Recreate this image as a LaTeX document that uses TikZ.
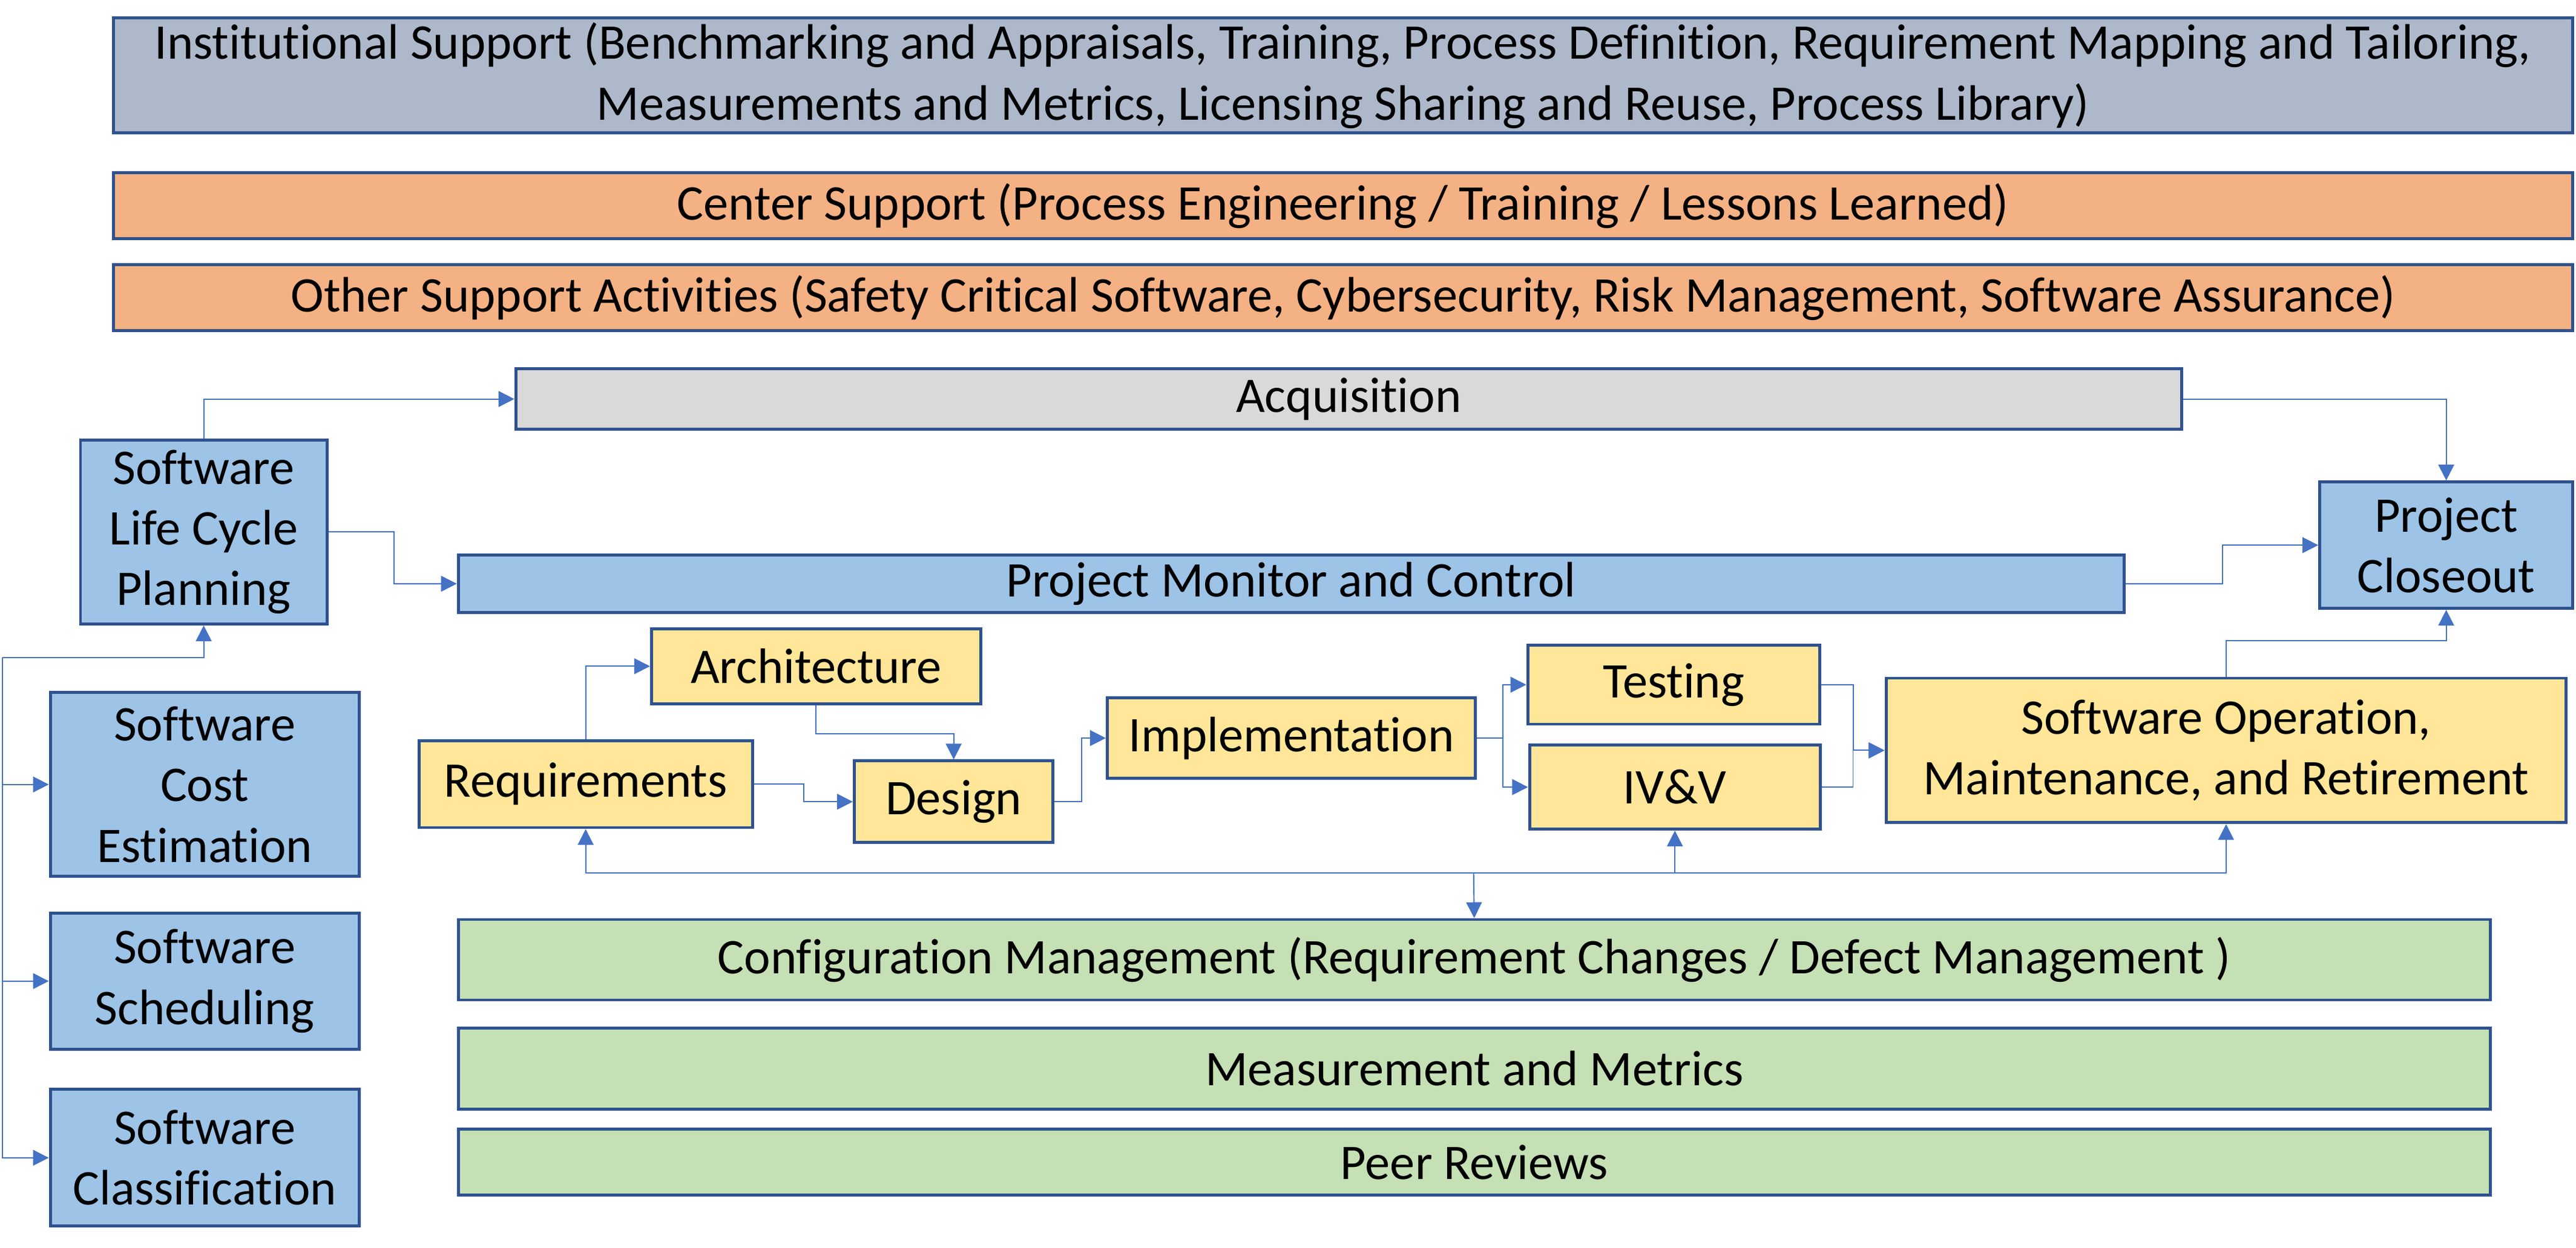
\documentclass[tikz,border=0pt]{standalone}
\usepackage{fontspec}
\setmainfont{Carlito}[Ligatures={NoCommon}]
\usepackage{xcolor}
\usepackage{tikz}
\usetikzlibrary{positioning,calc,arrows.meta}

\definecolor{edgeblue}{HTML}{2F528F}
\definecolor{lineblue}{HTML}{4472C4}
\definecolor{instgrey}{HTML}{ADB9CA}
\definecolor{suporange}{HTML}{F4B183}
\definecolor{acqgrey}{HTML}{D9D9D9}
\definecolor{planblue}{HTML}{9DC3E6}
\definecolor{devyellow}{HTML}{FFE699}
\definecolor{cmgreen}{HTML}{C5E0B4}

\begin{document}
\begin{tikzpicture}[x=0.25mm, y=-0.25mm,
    box/.style={draw=edgeblue, line width=1.3pt, inner sep=0pt, align=center,
        font=\fontsize{21.6}{26.3}\selectfont},
    conn/.style={draw=lineblue, line width=0.5pt, -{Triangle[length=2.4mm,width=2.4mm]}}]
    \useasboundingbox (0,0) rectangle (1568,760);

    % Support layers
    \node[box, fill=instgrey, minimum width=374.25mm, minimum height=17.5mm] (inst) at (817.5,46)
        {Institutional Support (Benchmarking and Appraisals, Training, Process Definition, Requirement Mapping and Tailoring,\\
         Measurements and Metrics, Licensing Sharing and Reuse, Process Library)};
    \node[box, fill=suporange, minimum width=374.25mm, minimum height=10.1mm] (center) at (817.5,125.25)
        {Center Support (Process Engineering / Training / Lessons Learned)};
    \node[box, fill=suporange, minimum width=374.25mm, minimum height=10.1mm] (other) at (817.5,181.25)
        {Other Support Activities (Safety Critical Software, Cybersecurity, Risk Management, Software Assurance)};

    % Management
    \node[box, fill=acqgrey, minimum width=253.5mm, minimum height=9.25mm] (acq) at (821,243) {Acquisition};
    \node[box, fill=planblue, minimum width=37.5mm, minimum height=28mm] (plan) at (124,324)
        {Software\\Life Cycle\\Planning};
    \node[box, fill=planblue, minimum width=253.5mm, minimum height=8.75mm] (pmc) at (786,355.5)
        {Project Monitor and Control};
    \node[box, fill=planblue, minimum width=38.5mm, minimum height=19.25mm] (close) at (1489,332)
        {Project\\Closeout};

    % Planning inputs
    \node[box, fill=planblue, minimum width=47mm, minimum height=28mm] (cost) at (124.6,477.75)
        {Software\\Cost\\Estimation};
    \node[box, fill=planblue, minimum width=47mm, minimum height=20.75mm] (sched) at (124.6,597.5)
        {Software\\Scheduling};
    \node[box, fill=planblue, minimum width=47mm, minimum height=20.8mm] (class) at (124.6,705.1)
        {Software\\Classification};

    % Life cycle phases
    \node[box, fill=devyellow, minimum width=50.1mm, minimum height=11.4mm] (arch) at (496.75,405.75) {Architecture};
    \node[box, fill=devyellow, minimum width=50.75mm, minimum height=13.25mm] (req) at (356.5,477.5) {Requirements};
    \node[box, fill=devyellow, minimum width=30.25mm, minimum height=12.4mm] (design) at (580.5,488.25) {Design};
    \node[box, fill=devyellow, minimum width=56mm, minimum height=12.25mm] (impl) at (786,449.5) {Implementation};
    \node[box, fill=devyellow, minimum width=44.4mm, minimum height=12mm] (test) at (1018.75,417) {Testing};
    \node[box, fill=devyellow, minimum width=44.25mm, minimum height=12.8mm] (ivv) at (1019.5,479.35) {IV\&V};
    \node[box, fill=devyellow, minimum width=103.5mm, minimum height=22mm] (swop) at (1355,457)
        {Software Operation,\\Maintenance, and Retirement};

    % Cross-cutting
    \node[box, fill=cmgreen, minimum width=309.2mm, minimum height=12.25mm] (cm) at (897.35,584.5)
        {Configuration Management (Requirement Changes / Defect Management )};
    \node[box, fill=cmgreen, minimum width=309.2mm, minimum height=12.4mm] (metrics) at (897.35,650.75)
        {Measurement and Metrics};
    \node[box, fill=cmgreen, minimum width=309.2mm, minimum height=10.1mm] (peer) at (897.35,707.75)
        {Peer Reviews};

    % Junctions
    \coordinate (lbus) at (1.5,400.6);
    \coordinate (bbus) at (897,531.5);

    % Planning links
    \draw[conn] (plan.north) |- (acq.west);
    \draw[conn] (plan.east) -- ++(40,0) |- (pmc.west);
    \draw[conn] (acq.east) -| (close.north);
    \draw[conn] (pmc.east) -- ++(59,0) |- (close.west);
    \draw[conn] (lbus) -| (plan.south);
    \draw[conn] (lbus) |- (cost.west);
    \draw[conn] (lbus) |- (sched.west);
    \draw[conn] (lbus) |- (class.west);

    % Phase links
    \draw[conn] (req.north) |- (arch.west);
    \draw[conn] (arch.south) -- ++(0,17.5) -| (design.north);
    \draw[conn] (req.east) -- ++(30.5,0) |- (design.west);
    \draw[conn] (design.east) -- ++(16.6,0) |- (impl.west);
    \draw[conn] (impl.east) -- ++(16,0) |- (test.west);
    \draw[conn] (impl.east) -- ++(16,0) |- (ivv.west);
    \draw[conn] (test.east) -- ++(19.5,0) |- (swop.west);
    \draw[conn] (ivv.east) -- ++(19,0) |- (swop.west);
    \draw[conn] (swop.north) -- ++(0,-22) -| (close.south);

    % Configuration management links
    \draw[conn] (bbus) -| (req.south);
    \draw[conn] (bbus) -| (ivv.south);
    \draw[conn] (bbus) -| (swop.south);
    \draw[conn] (bbus) -- (cm.north);

\end{tikzpicture}
\end{document}
